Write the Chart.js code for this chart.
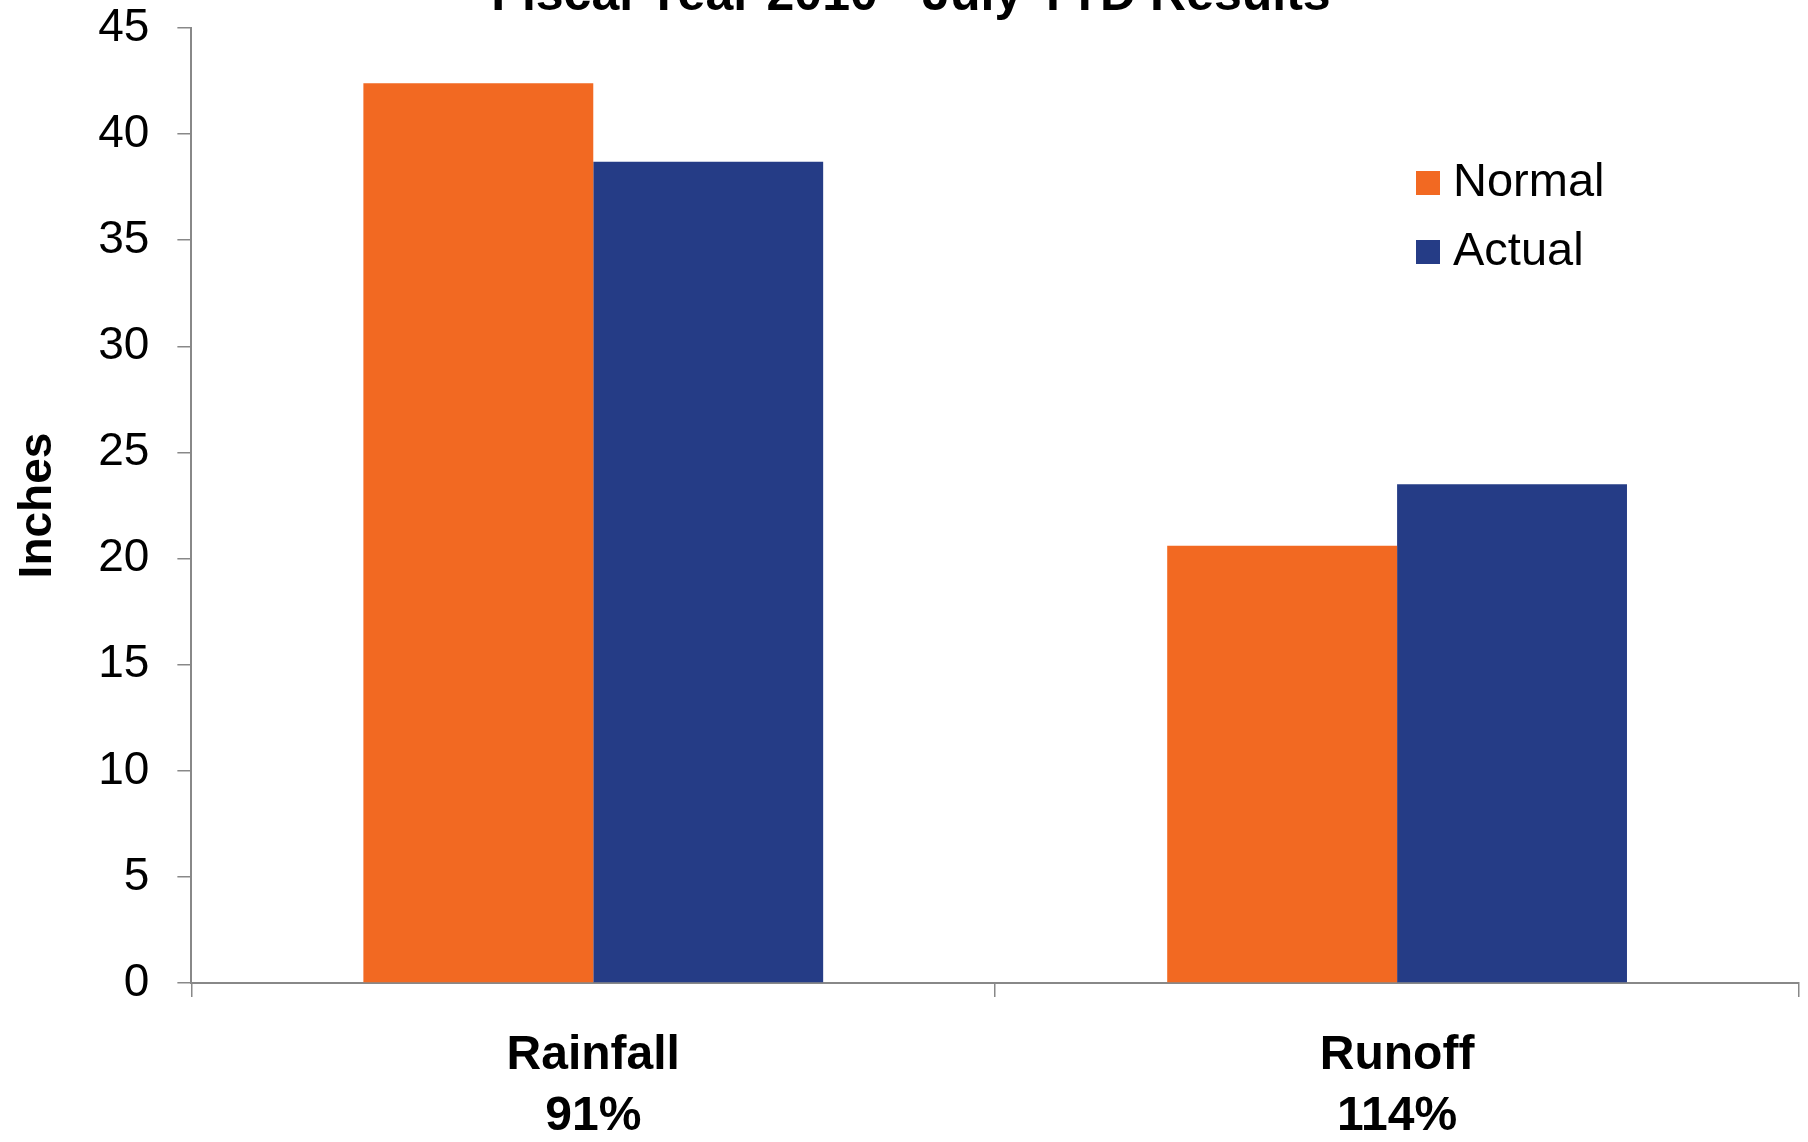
<!DOCTYPE html>
<html>
<head>
<meta charset="utf-8">
<script src="https://cdn.jsdelivr.net/npm/chart.js@4"></script>
<style>
  html, body { margin: 0; padding: 0; background: #fff; }
  #wrap { width: 1808px; height: 1142px; }
</style>
</head>
<body>
<div id="wrap"><canvas id="rain"></canvas></div>
<script>
const categories = [['Rainfall', '91%'], ['Runoff', '114%']];
const normalValues = [42.4, 20.6];
const actualValues = [38.7, 23.5];
const yMin = 0;
const yMax = 45;
const yStep = 5;

// legend drawn inside the plot, top right like the original
const cornerLegend = {
    id: 'cornerLegend',
    afterDraw(chart, args, opts) {
        const ctx = chart.ctx;
        ctx.save();
        ctx.font = opts.font;
        ctx.textBaseline = 'middle';
        chart.data.datasets.forEach((ds, i) => {
            const y = opts.y + i * opts.rowGap;
            ctx.fillStyle = ds.backgroundColor;
            ctx.fillRect(opts.x, y - opts.box / 2, opts.box, opts.box);
            ctx.fillStyle = '#000';
            ctx.fillText(ds.label, opts.x + opts.box + 13, y);
        });
        ctx.restore();
    }
};

// title is cut off by the top edge in the original, so draw it by hand
const clippedTitle = {
    id: 'clippedTitle',
    afterDraw(chart, args, opts) {
        const ctx = chart.ctx;
        ctx.save();
        ctx.font = opts.font;
        ctx.fillStyle = '#000';
        ctx.textAlign = 'center';
        ctx.textBaseline = 'alphabetic';
        ctx.fillText(opts.text, opts.x, opts.baseline);
        ctx.restore();
    }
};

new Chart(
    document.getElementById('rain'),
    {
    type: 'bar',
    data: {
        labels: categories,
        datasets: [{
            label: 'Normal',
            data: normalValues,
            backgroundColor: '#F26922',
            borderWidth: 0
        }, {
            label: 'Actual',
            data: actualValues,
            backgroundColor: '#253C86',
            borderWidth: 0
        }]
    },
    options: {
        responsive: true,
        maintainAspectRatio: false,
        animation: false,
        categoryPercentage: 0.572,
        barPercentage: 1.0,
        layout: {
            padding: { left: 0, right: 9, top: 0, bottom: -33 }
        },
        scales: {
            x: {
                grid: {
                    drawOnChartArea: false,
                    tickLength: 14,
                    color: '#888',
                    lineWidth: 1.5
                },
                border: { color: '#888', width: 2 },
                ticks: {
                    color: '#000',
                    padding: 28,
                    font: { family: 'Liberation Sans', size: 48, weight: 'bold', lineHeight: 1.27 }
                }
            },
            y: {
                min: yMin,
                max: yMax,
                // tick padding would otherwise push the top of the axis down
                afterFit(scale) {
                    scale.paddingTop = 28;
                    scale.paddingBottom = 28;
                },
                grid: {
                    drawOnChartArea: false,
                    tickLength: 14,
                    color: '#888',
                    lineWidth: 1.5
                },
                border: { color: '#888', width: 2 },
                ticks: {
                    stepSize: yStep,
                    color: '#000',
                    padding: 28,
                    font: { family: 'Liberation Sans', size: 46 }
                },
                title: {
                    display: true,
                    text: 'Inches',
                    color: '#000',
                    padding: { top: 11, bottom: 4 },
                    font: { family: 'Liberation Sans', size: 46, weight: 'bold' }
                }
            }
        },
        plugins: {
            legend: { display: false },
            tooltip: { enabled: false },
            title: { display: false },
            clippedTitle: {
                text: 'Fiscal Year 2010 - July YTD Results',
                x: 911,
                baseline: 10,
                font: 'bold 50px "Liberation Sans"'
            },
            cornerLegend: {
                x: 1416,
                y: 183,
                rowGap: 69,
                box: 24,
                font: '47px "Liberation Sans"'
            }
        }
    },
    plugins: [cornerLegend, clippedTitle]
});
</script>
</body>
</html>
